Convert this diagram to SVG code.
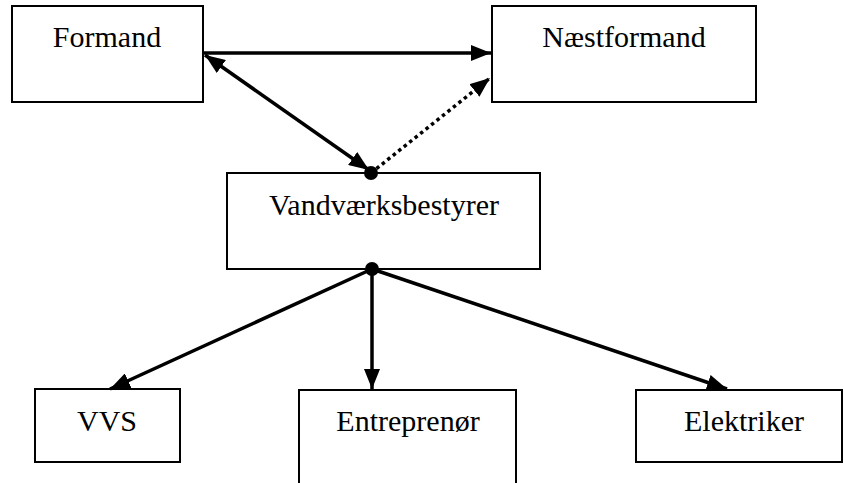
<svg xmlns="http://www.w3.org/2000/svg" width="844" height="483" viewBox="0 0 844 483">
<style>
.box{fill:#fff;stroke:#000;stroke-width:2}
.lbl{font-family:"Liberation Serif","Times New Roman","DejaVu Serif",serif;font-size:30px;fill:#000;text-anchor:middle}
.con{stroke:#000;stroke-width:3.5;fill:none}
.dot{stroke-dasharray:3.5 3.5}
</style>
<defs>
<marker id="ah" viewBox="0 0 20 16" refX="20" refY="8" markerWidth="20" markerHeight="16" markerUnits="userSpaceOnUse" orient="auto-start-reverse">
<path d="M0,0 L20,8 L0,16 Z" fill="#000"/>
</marker>
</defs>
<g id="formand"><rect class="box" x="12" y="6" width="191" height="96"/><text class="lbl" font-family="Liberation Serif" x="107" y="47">Formand</text></g>
<g id="naestformand"><rect class="box" x="492" y="6" width="264" height="96"/><text class="lbl" font-family="Liberation Serif" x="624" y="47">Næstformand</text></g>
<g id="vandvaerksbestyrer"><rect class="box" x="227" y="173" width="313" height="96"/><text class="lbl" font-family="Liberation Serif" x="384" y="215">Vandværksbestyrer</text></g>
<g id="vvs"><rect class="box" x="35" y="389" width="145" height="73"/><text class="lbl" font-family="Liberation Serif" x="107" y="431">VVS</text></g>
<g id="entreprenoer"><rect class="box" x="299" y="390" width="217" height="100"/><text class="lbl" font-family="Liberation Serif" x="408" y="431">Entreprenør</text></g>
<g id="elektriker"><rect class="box" x="636" y="390" width="206" height="72"/><text class="lbl" font-family="Liberation Serif" x="744" y="431">Elektriker</text></g>
<g id="connectors">
<line class="con" x1="203" y1="53" x2="491" y2="53" marker-end="url(#ah)"/>
<line class="con" x1="205" y1="55" x2="369" y2="170" marker-start="url(#ah)" marker-end="url(#ah)"/>
<line class="con dot" x1="371" y1="173" x2="490" y2="78" marker-end="url(#ah)"/>
<line class="con" x1="372" y1="269" x2="110" y2="389" marker-end="url(#ah)"/>
<line class="con" x1="372" y1="269" x2="372" y2="389" marker-end="url(#ah)"/>
<line class="con" x1="372" y1="269" x2="727" y2="389" marker-end="url(#ah)"/>
<circle cx="371" cy="173" r="7" fill="#000"/>
<circle cx="372" cy="269" r="7" fill="#000"/>
</g>
</svg>
